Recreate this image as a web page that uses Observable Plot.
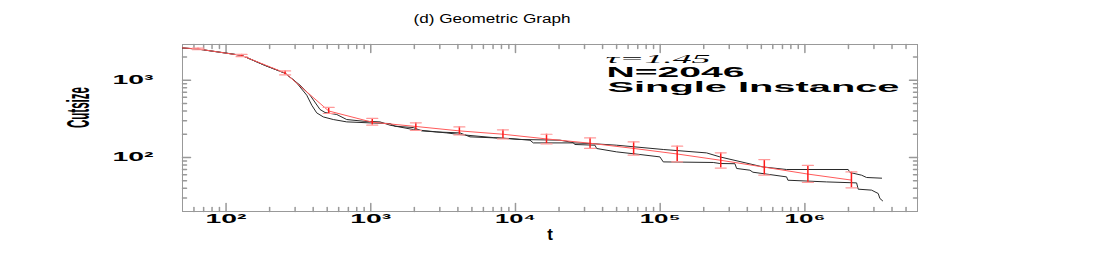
<!DOCTYPE html>
<html><head><meta charset="utf-8">
<script src="https://cdn.jsdelivr.net/npm/d3@7"></script>
<script src="https://cdn.jsdelivr.net/npm/@observablehq/plot@0.6"></script>
<style>body{margin:0;background:#fff}</style>
</head><body><div id="chart"></div>
<script>
// Averaged run (red) with error bars, t = 2^k
const redT  = [32,64,128,256,512,1024,2048,4096,8192,16384,32768,65536,131072,262144,524288,1048576,2097152];
const redV  = [2780,2540,2090,1240,400,286,252,221,200,174,153,131,111,92,75,61,51];
const redLo = [null,2480,2020,1172,371,262,225,196,174,150,131,107,88,73,59,47.5,40.5];
const redHi = [null,2600,2160,1319,444,320,281,249,228,200,179,159,140,115,94,79,65];

// Single-instance run A (black)
const aT = [32,64,128,185,256,305,361,391,423,470,551,682,1015,1358,1471,1967,2249,2855,4137,4851,9163,12600,13274,24960,32710,50030,105000,209400,258700,512800,747300,1992000,2046000,2465000,2669000,3388000];
const aV = [2780,2530,2100,1560,1232,942,640,475,378,335,310,289,280,275,254,244,221,214,208,185,176,167.5,154.5,154.5,151.7,144.2,126.9,114.7,101.8,75.5,69.9,69.9,64,59,55.1,54];

// Single-instance run B (black)
const bT = [32,64,128,185,256,324.5,380.5,446,483,582,682,884,1158,1358,1967,3347,4137,7026,10743,20300,24960,25770,35420,36390,50030,72460,99600,105000,232600,258700,328500,337500,416900,437300,747300,763000,1413000,2277000,2335000,2889000,3210000,3298000,3443000];
const bV = [2780,2530,2100,1560,1232,862,640,418,382,360,310,295,289,262,230,208,198,181,171,167.5,156.3,147.3,144.2,130.7,118.2,109.3,101.8,87.7,86.2,83.6,83.1,72.1,68.5,64.5,56.1,50.8,48.3,46.9,38.9,37.8,34.2,29.5,27.5];

const xMajor = [1e2,1e3,1e4,1e5,1e6];
const yMajor = [1e2,1e3];
const xDomain = [50, 6e6];
const yDomain = [20, 2900];
const titleText = "(d) Geometric Graph";
const annot = ["τ=1.45", "N=2046", "Single Instance"];
const xLabel = "t";
const yLabel = "Cutsize";

const sup = {"2":"²","3":"³","4":"⁴","5":"⁵","6":"⁶"};
const fmt = d => "10" + sup[String(Math.round(Math.log10(d)))];
function minors(domain) {
  const out = [];
  for (let e = -1; e <= 8; e++) for (let k = 2; k <= 9; k++) {
    const v = k * Math.pow(10, e);
    if (v > domain[0] && v < domain[1]) out.push(v);
  }
  return out;
}
const xMinor = minors(xDomain), yMinor = minors(yDomain);

const red = redT.map((t, i) => ({t, v: redV[i], lo: redLo[i], hi: redHi[i]}));
const err = red.filter(d => d.lo != null);
const runA = aT.map((t, i) => ({t, v: aV[i]}));
const runB = bT.map((t, i) => ({t, v: bV[i]}));

const seg = {draw(ctx, l) { ctx.moveTo(0, 0); ctx.lineTo(0, -l); }};
const tk = "#999";
function ticks(vals, len) {
  return [
    Plot.vector(vals.x, {x: d => d, frameAnchor: "bottom", rotate: 0, length: len, anchor: "start", shape: seg, stroke: tk}),
    Plot.vector(vals.x, {x: d => d, frameAnchor: "top", rotate: 180, length: len, anchor: "start", shape: seg, stroke: tk}),
    Plot.vector(vals.y, {y: d => d, frameAnchor: "left", rotate: 90, length: len, anchor: "start", shape: seg, stroke: tk}),
    Plot.vector(vals.y, {y: d => d, frameAnchor: "right", rotate: -90, length: len, anchor: "start", shape: seg, stroke: tk})
  ];
}

const plot = Plot.plot({
  width: 1100, height: 255,
  marginLeft: 182, marginRight: 183, marginTop: 44, marginBottom: 44,
  x: {type: "log", domain: xDomain},
  y: {type: "log", domain: yDomain},
  style: {fontFamily: "'Liberation Sans', Arial, sans-serif", background: "#fff", color: "#000"},
  marks: [
    Plot.frame({stroke: tk}),
    ...ticks({x: xMajor, y: yMajor}, 8),
    ...ticks({x: xMinor, y: yMinor}, 4),
    Plot.axisX({ticks: xMajor, tickSize: 0, tickPadding: 3, tickFormat: fmt, fontSize: 12.5, fontWeight: "bold", label: null}),
    Plot.axisY({ticks: yMajor, tickSize: 0, tickPadding: 29, tickFormat: fmt, fontSize: 12.5, fontWeight: "bold", label: null}),
    Plot.line(runA, {x: "t", y: "v", stroke: "#2a2a2a", strokeWidth: 1, clip: true}),
    Plot.line(runB, {x: "t", y: "v", stroke: "#2a2a2a", strokeWidth: 1, clip: true}),
    Plot.line(red, {x: "t", y: "v", stroke: "#ff5a5a", strokeWidth: 1, clip: true}),
    Plot.ruleX(err, {x: "t", y1: "lo", y2: "hi", stroke: "#ff1a1a", strokeWidth: 1.5}),
    Plot.vector(err, {x: "t", y: "lo", rotate: 90, length: 11, anchor: "middle", shape: seg, stroke: "#ff9a9a", strokeWidth: 1.2}),
    Plot.vector(err, {x: "t", y: "hi", rotate: 90, length: 11, anchor: "middle", shape: seg, stroke: "#ff9a9a", strokeWidth: 1.2}),
    Plot.text([titleText], {frameAnchor: "top", dx: -58, dy: -25, lineAnchor: "middle", fontSize: 12}),
    Plot.text([annot[0]], {frameAnchor: "top-left", dx: 423, dy: 14, textAnchor: "start", lineAnchor: "middle", fontSize: 12.5, fontStyle: "italic", fontFamily: "'Liberation Serif', 'DejaVu Serif', serif"}),
    Plot.text([annot[1]], {frameAnchor: "top-left", dx: 424, dy: 28.5, textAnchor: "start", lineAnchor: "middle", fontSize: 14, fontWeight: "bold"}),
    Plot.text([annot[2]], {frameAnchor: "top-left", dx: 425, dy: 43, textAnchor: "start", lineAnchor: "middle", fontSize: 14.5, fontWeight: "bold"}),
    Plot.text([xLabel], {frameAnchor: "bottom", dy: 23, lineAnchor: "middle", fontSize: 17, fontWeight: "bold"}),
    Plot.text([yLabel], {frameAnchor: "left", dx: -104, rotate: -90, lineAnchor: "middle", fontSize: 32, fontWeight: "bold"})
  ]
});
document.getElementById("chart").append(plot);

const stretch = {"(d) Geometric Graph": 157, "τ=1.45": 105, "N=2046": 138, "Single Instance": 292, "Cutsize": 41};
plot.querySelectorAll("text").forEach(el => {
  const s = el.textContent;
  let L = stretch[s];
  if (L == null && /^10/.test(s)) L = 41;
  if (L) { el.setAttribute("textLength", L); el.setAttribute("lengthAdjust", "spacingAndGlyphs"); }
});
</script>
</body></html>
